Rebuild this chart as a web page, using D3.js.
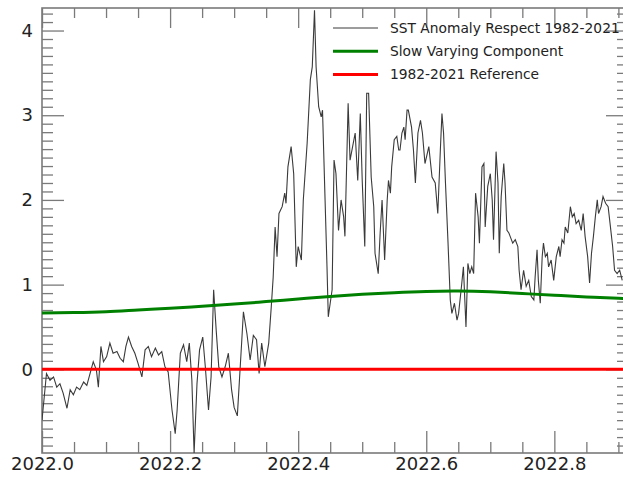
<!DOCTYPE html>
<html lang="en">
<head>
    <meta charset="UTF-8">
    <title>SST Anomaly 2022</title>
    <script src="https://d3js.org/d3.v7.min.js"></script>
    <style>
        body { margin: 0; background: #fff; }
        text { font-family: "DejaVu Sans", sans-serif; fill: #222; }
    </style>
</head>
<body>
    <div id="chart"></div>

    <script>
        // SST anomaly respect 1982-2021
        const anomalyYears = [
            2022.000, 2022.007, 2022.0125, 2022.018, 2022.023, 2022.028, 2022.033, 2022.039, 2022.044, 2022.049,
            2022.054, 2022.059, 2022.065, 2022.070, 2022.075, 2022.080, 2022.085, 2022.088, 2022.092, 2022.096,
            2022.101, 2022.106, 2022.111, 2022.117, 2022.122, 2022.127, 2022.131, 2022.135, 2022.140, 2022.145,
            2022.150, 2022.156, 2022.161, 2022.166, 2022.171, 2022.177, 2022.182, 2022.187, 2022.192, 2022.197,
            2022.203, 2022.208, 2022.211, 2022.216, 2022.221, 2022.226, 2022.230, 2022.234, 2022.2375, 2022.242,
            2022.246, 2022.251, 2022.255, 2022.260, 2022.264, 2022.268, 2022.272, 2022.276, 2022.281, 2022.286,
            2022.291, 2022.296, 2022.300, 2022.305, 2022.312, 2022.3145, 2022.320, 2022.325, 2022.330, 2022.335,
            2022.339, 2022.343, 2022.348, 2022.354, 2022.358, 2022.361, 2022.364, 2022.367, 2022.370, 2022.375,
            2022.379, 2022.381, 2022.384, 2022.389, 2022.393, 2022.397, 2022.400, 2022.405, 2022.408, 2022.414,
            2022.419, 2022.422, 2022.4255, 2022.428, 2022.432, 2022.436, 2022.438, 2022.442, 2022.445, 2022.447,
            2022.450, 2022.453, 2022.456, 2022.459, 2022.463, 2022.467, 2022.471, 2022.473, 2022.478, 2022.481,
            2022.485, 2022.489, 2022.493, 2022.497, 2022.500, 2022.504, 2022.507, 2022.510, 2022.514, 2022.518,
            2022.520, 2022.525, 2022.528, 2022.531, 2022.535, 2022.539, 2022.541, 2022.544, 2022.546, 2022.550,
            2022.554, 2022.557, 2022.559, 2022.562, 2022.565, 2022.567, 2022.570, 2022.572, 2022.577, 2022.580,
            2022.583, 2022.587, 2022.591, 2022.594, 2022.598, 2022.604, 2022.609, 2022.614, 2022.618, 2022.622,
            2022.6245, 2022.627, 2022.630, 2022.634, 2022.6375, 2022.640, 2022.644, 2022.648, 2022.6505, 2022.655,
            2022.658, 2022.662, 2022.665, 2022.668, 2022.671, 2022.674, 2022.677, 2022.681, 2022.683, 2022.687,
            2022.690, 2022.692, 2022.696, 2022.700, 2022.703, 2022.705, 2022.709, 2022.712, 2022.714, 2022.717,
            2022.721, 2022.723, 2022.726, 2022.729, 2022.731, 2022.735, 2022.739, 2022.743, 2022.745, 2022.748,
            2022.752, 2022.756, 2022.760, 2022.764, 2022.768, 2022.770, 2022.773, 2022.775, 2022.778, 2022.781,
            2022.783, 2022.786, 2022.789, 2022.791, 2022.795, 2022.799, 2022.803, 2022.807, 2022.809, 2022.812,
            2022.815, 2022.817, 2022.821, 2022.825, 2022.828, 2022.831, 2022.834, 2022.838, 2022.842, 2022.845,
            2022.848, 2022.852, 2022.855, 2022.858, 2022.861, 2022.864, 2022.867, 2022.869, 2022.873, 2022.876,
            2022.880, 2022.884, 2022.887, 2022.891, 2022.894, 2022.898, 2022.902, 2022.906
        ];
        const anomalyValues = [
            -0.60, -0.05, -0.13, -0.09, -0.21, -0.17, -0.28, -0.46, -0.24, -0.30,
            -0.21, -0.24, -0.15, -0.19, -0.05, 0.09, -0.01, -0.21, 0.27, 0.09,
            0.15, 0.31, 0.19, 0.21, 0.13, 0.09, 0.27, 0.38, 0.27, 0.19,
            0.07, -0.09, 0.23, 0.27, 0.15, 0.25, 0.17, 0.21, 0.03, -0.03,
            -0.48, -0.76, -0.48, 0.19, 0.29, 0.09, 0.31, -0.13, -0.99, -0.17,
            0.23, 0.38, 0.03, -0.48, -0.09, 0.94, 0.46, 0.03, -0.09, 0.03,
            0.19, -0.24, -0.45, -0.55, 0.35, 0.68, 0.42, 0.11, 0.40, 0.35,
            -0.05, 0.31, 0.03, 0.31, 0.74, 1.09, 1.68, 1.33, 1.84, 1.92,
            2.08, 1.96, 2.39, 2.63, 2.31, 1.21, 1.45, 1.29, 2.00, 2.67,
            3.42, 3.57, 4.24, 3.57, 3.10, 2.98, 3.06, 2.00, 1.21, 0.62,
            0.78, 0.94, 2.47, 2.31, 1.64, 2.00, 1.80, 1.57, 3.14, 2.47,
            2.63, 2.79, 2.23, 3.02, 2.23, 1.45, 3.26, 3.26, 2.27, 1.92,
            1.37, 1.13, 1.61, 2.00, 1.29, 2.00, 2.23, 2.08, 2.39, 2.71,
            2.75, 2.59, 2.59, 2.79, 2.86, 2.71, 3.06, 3.06, 2.86, 2.59,
            2.20, 2.79, 2.94, 2.79, 2.43, 2.63, 2.27, 2.20, 1.84, 2.59,
            3.02, 2.79, 2.20, 1.49, 0.82, 0.66, 0.78, 0.58, 0.66, 0.98,
            1.21, 0.50, 1.25, 1.13, 1.21, 1.13, 2.08, 1.80, 1.49, 2.39,
            2.43, 1.68, 2.16, 2.31, 2.00, 1.53, 2.57, 2.20, 1.37, 2.04,
            2.43, 2.20, 1.64, 1.61, 1.57, 1.49, 1.53, 1.45, 1.17, 0.94,
            1.17, 0.98, 1.05, 0.86, 0.82, 1.09, 1.41, 1.05, 0.78, 1.33,
            1.49, 1.33, 1.37, 1.21, 1.29, 1.05, 1.33, 1.45, 1.33, 1.53,
            1.49, 1.68, 1.61, 1.92, 1.80, 1.84, 1.72, 1.76, 1.64, 1.84,
            1.57, 1.33, 1.02, 1.37, 1.57, 1.80, 2.00, 1.84, 1.92, 2.04,
            1.96, 1.92, 1.72, 1.45, 1.17, 1.13, 1.17, 1.05
        ];

        // slow varying component
        const smoothYears = [2022.0, 2022.05, 2022.1, 2022.15, 2022.2, 2022.25, 2022.3, 2022.35, 2022.4, 2022.45,
                             2022.5, 2022.55, 2022.6, 2022.65, 2022.7, 2022.75, 2022.8, 2022.85, 2022.9, 2022.92];
        const smoothValues = [0.665, 0.67, 0.68, 0.70, 0.72, 0.745, 0.77, 0.80, 0.83, 0.86,
                              0.885, 0.905, 0.92, 0.925, 0.915, 0.895, 0.875, 0.855, 0.84, 0.83];

        const referenceValue = 0;

        const xMajorTicks = [2022.0, 2022.2, 2022.4, 2022.6, 2022.8];
        const xTickLabels = ["2022.0", "2022.2", "2022.4", "2022.6", "2022.8"];
        const yMajorTicks = [0, 1, 2, 3, 4];
        const yTickLabels = ["0", "1", "2", "3", "4"];

        const seriesNames = ["SST Anomaly Respect 1982-2021", "Slow Varying Component", "1982-2021 Reference"];

        const W = 623, H = 481;
        const margin = { top: 8, left: 42, bottom: 28 };
        const plotRight = 628;   // frame runs just past the picture edge

        const svg = d3.select("#chart")
            .append("svg")
            .attr("width", W)
            .attr("height", H);

        const x = d3.scaleLinear()
            .domain([2022.0, 2022.915])
            .range([margin.left, plotRight]);

        const y = d3.scaleLinear()
            .domain([-0.988, 4.266])
            .range([H - margin.bottom, margin.top]);

        const axisColor = "#7a7a7a";

        svg.append("clipPath").attr("id", "plot-clip")
            .append("rect")
            .attr("x", x.range()[0]).attr("y", y.range()[1])
            .attr("width", x.range()[1] - x.range()[0])
            .attr("height", y.range()[0] - y.range()[1]);

        const xMinor = d3.range(2022.0, 2022.92, 0.05).filter(v => !xMajorTicks.some(m => Math.abs(m - v) < 1e-6));
        const yMinor = d3.range(-0.9, 4.27, 0.1).filter(v => !yMajorTicks.some(m => Math.abs(m - v) < 1e-6));

        // styling helper for all axis groups
        const styleAxis = g => {
            g.select(".domain").remove();
            g.selectAll(".tick line").attr("stroke", axisColor).attr("stroke-width", 1.3);
        };

        // bottom
        svg.append("g").attr("transform", `translate(0,${y.range()[0]})`)
            .call(d3.axisBottom(x).tickValues(xMajorTicks).tickSize(-22).tickPadding(4)
                .tickFormat((d, i) => xTickLabels[i]))
            .call(styleAxis)
            .call(g => g.selectAll("text").attr("font-size", 18).attr("fill", "#222").attr("dy", "0.74em")
                .attr("font-family", "DejaVu Sans"));
        svg.append("g").attr("transform", `translate(0,${y.range()[0]})`)
            .call(d3.axisBottom(x).tickValues(xMinor).tickSize(-11).tickFormat(""))
            .call(styleAxis);

        // top
        svg.append("g").attr("transform", `translate(0,${y.range()[1]})`)
            .call(d3.axisTop(x).tickValues(xMajorTicks).tickSize(-20).tickFormat(""))
            .call(styleAxis);
        svg.append("g").attr("transform", `translate(0,${y.range()[1]})`)
            .call(d3.axisTop(x).tickValues(xMinor).tickSize(-10).tickFormat(""))
            .call(styleAxis);

        // left
        svg.append("g").attr("transform", `translate(${x.range()[0]},0)`)
            .call(d3.axisLeft(y).tickValues(yMajorTicks).tickSize(-22).tickPadding(9)
                .tickFormat((d, i) => yTickLabels[i]))
            .call(styleAxis)
            .call(g => g.selectAll("text").attr("font-size", 18).attr("fill", "#222")
                .attr("font-family", "DejaVu Sans"));
        svg.append("g").attr("transform", `translate(${x.range()[0]},0)`)
            .call(d3.axisLeft(y).tickValues(yMinor).tickSize(-11).tickFormat(""))
            .call(styleAxis);

        // right
        svg.append("g").attr("transform", `translate(${plotRight},0)`)
            .call(d3.axisRight(y).tickValues(yMajorTicks).tickSize(-22).tickFormat(""))
            .call(styleAxis);
        svg.append("g").attr("transform", `translate(${plotRight},0)`)
            .call(d3.axisRight(y).tickValues(yMinor).tickSize(-11).tickFormat(""))
            .call(styleAxis);

        // frame
        svg.append("rect")
            .attr("x", x.range()[0]).attr("y", y.range()[1])
            .attr("width", x.range()[1] - x.range()[0])
            .attr("height", y.range()[0] - y.range()[1])
            .attr("fill", "none")
            .attr("stroke", axisColor)
            .attr("stroke-width", 1.6);

        const plot = svg.append("g").attr("clip-path", "url(#plot-clip)");

        // anomaly line
        const anomaly = anomalyYears.map((t, i) => [t, anomalyValues[i]]);
        plot.append("path")
            .datum(anomaly)
            .attr("fill", "none")
            .attr("stroke", "#3a3a3a")
            .attr("stroke-width", 1.1)
            .attr("d", d3.line().x(d => x(d[0])).y(d => y(d[1])));

        // reference line
        plot.append("path")
            .datum(x.domain())
            .attr("fill", "none")
            .attr("stroke", "#ff0000")
            .attr("stroke-width", 3)
            .attr("d", d3.line().x(d => x(d)).y(() => y(referenceValue)));

        // slow component
        const smooth = smoothYears.map((t, i) => [t, smoothValues[i]]);
        plot.append("path")
            .datum(smooth)
            .attr("fill", "none")
            .attr("stroke", "#008000")
            .attr("stroke-width", 3)
            .attr("d", d3.line().curve(d3.curveNatural).x(d => x(d[0])).y(d => y(d[1])));

        // legend
        const legendColors = ["#3a3a3a", "#008000", "#ff0000"];
        const legendWidths = [1, 3, 3];
        const legend = svg.append("g").attr("transform", "translate(333,28)");
        seriesNames.forEach((name, i) => {
            const row = legend.append("g").attr("transform", `translate(0,${i * 23.3})`);
            row.append("line")
                .attr("x1", 0).attr("x2", 45)
                .attr("stroke", legendColors[i])
                .attr("stroke-width", legendWidths[i]);
            row.append("text")
                .attr("x", 57)
                .attr("dy", "0.35em")
                .attr("font-size", 13.8)
                .text(name);
        });
    </script>
</body>
</html>
